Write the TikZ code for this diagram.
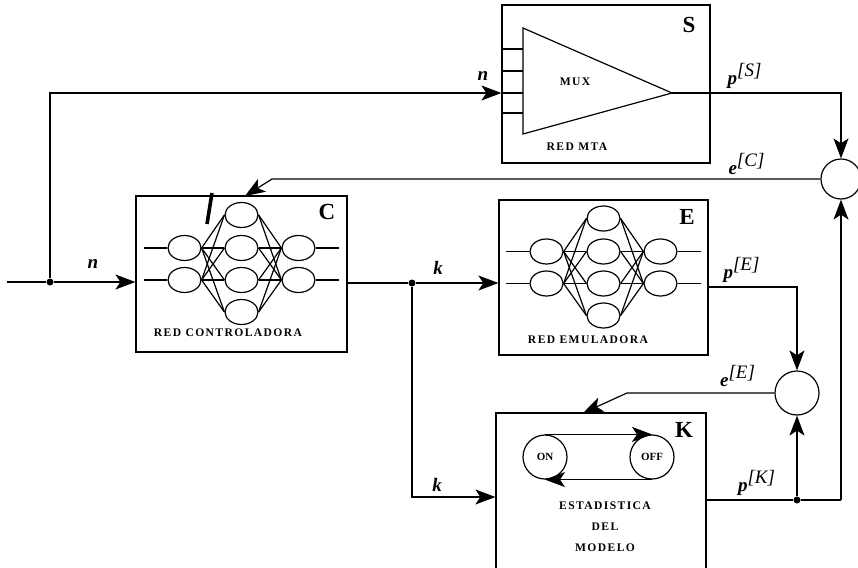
\documentclass[tikz,border=0pt]{standalone}
\usepackage{fontspec}
\setmainfont{Liberation Serif}
\usetikzlibrary{arrows.meta, shapes.geometric}

\newcommand{\rednet}[3]{%
  \foreach \r/\dy in {1/-59,2/-26,3/6,4/38}
    \node[neuron] (#1h\r) at (#2, #3+\dy) {};
  \foreach \r/\dy in {1/-26,2/6} {
    \node[neuron] (#1i\r) at (#2-57, #3+\dy) {};
    \node[neuron] (#1o\r) at (#2+57, #3+\dy) {};
    \draw (#1i\r.west) -- ++(-23,0);
    \draw (#1o\r.east) -- ++(23,0);
  }
  \foreach \i in {1,2} \foreach \h in {1,...,4} {
    \draw (#1i\i.east) -- (#1h\h.west);
    \draw (#1h\h.east) -- (#1o\i.west);
  }
}

\begin{document}
\begin{tikzpicture}[x=0.5pt, y=-0.5pt, line width=0.6pt,
    bloque/.style={draw, rectangle, inner sep=0pt},
    neuron/.style={draw, ellipse, inner sep=0pt, minimum width=16.5pt, minimum height=12.5pt},
    sumador/.style={draw, circle, inner sep=0pt},
    estado/.style={draw, circle, inner sep=0pt, minimum size=22pt, font=\fontsize{5.5}{6}\selectfont\bfseries},
    punto/.style={circle, fill, inner sep=0pt, minimum size=3.5pt},
    letra/.style={font=\fontsize{11.5}{12}\selectfont\bfseries},
    rotulo/.style={font=\fontsize{5.8}{6}\selectfont\bfseries\addfontfeature{LetterSpace=12}},
    senal/.style={font=\fontsize{9.5}{10}\selectfont\bfseries\itshape},
    sup/.style={},
    flow/.style={-{Stealth[length=10pt, width=7.5pt, inset=2.5pt]}}
]
\useasboundingbox (0,0) rectangle (858,568);

\node[bloque, minimum width=104pt, minimum height=79pt] (S) at (606,84) {};
\node[bloque, minimum width=105.5pt, minimum height=78pt] (C) at (241.5,274) {};
\node[bloque, minimum width=104.5pt, minimum height=77.5pt] (E) at (603.5,277.5) {};
\node[bloque, minimum width=105pt, minimum height=81pt] (K) at (601,494) {};

\node[letra] (Slet) at (689,25) {S};
\node[letra] (Clet) at (327,212) {C};
\node[letra] (Elet) at (687,217) {E};
\node[letra] (Klet) at (684,430) {K};

\coordinate (mux) at (672,93);
\draw (523,28) -- (mux) -- (523,134) -- cycle;
\foreach \yy in {49,71,93,113}
  \draw (S.west |- 0,\yy) -- (523,\yy);
\node[rotulo] (muxtxt) at (575,82) {MUX};
\node[rotulo] (mta) at (577,147) {RED MTA};

\rednet{c}{241.5}{274}
\rednet{e}{603.5}{277.5}
\draw[line width=1.8pt] (212,193) -- (207,224);
\node[rotulo] (ctxt) at (228,333) {RED CONTROLADORA};
\node[rotulo] (etxt) at (588,340) {RED EMULADORA};

\node[estado] (on) at (545,457) {ON};
\node[estado] (off) at (652,457) {OFF};
\draw[flow] (on.north) -- (off.north);
\draw[flow] (off.south) -- (on.south);
\node[rotulo, align=center, font=\fontsize{5.8}{10.5}\selectfont\bfseries\addfontfeature{LetterSpace=12}] (estad) at (605,527) {ESTADISTICA\\DEL\\MODELO};

\node[sumador, minimum size=20pt] (J1) at (841,179) {};
\node[sumador, minimum size=22pt] (J2) at (797,393) {};

\coordinate (entrada) at (7,282);
\node[punto] (nsplit) at (50,282) {};
\draw (entrada) -- (nsplit);
\draw[flow] (nsplit) -- (nsplit -| C.west);
\draw[flow] (nsplit) |- (S.west |- 0,93);
\draw[flow] (mux) -| (J1.north);

\coordinate (ecodo) at (272,179);
\coordinate (ectip) at (245,196);
\draw[flow] (J1.west) -- (ecodo) -- (ectip);

\node[punto] (ksplit) at (412,283) {};
\draw (C.east |- ksplit) -- (ksplit);
\draw[flow] (ksplit) -- (ksplit -| E.west);
\draw[flow] (ksplit) |- (K.west |- 0,497);

\draw[flow] (E.east |- 0,287) -| (J2.north);

\coordinate (eecodo) at (627,393);
\coordinate (eetip) at (583,413);
\draw[flow] (J2.west) -- (eecodo) -- (eetip);

\node[punto] (kdot) at (797,500) {};
\coordinate (kesq) at (841,500);
\draw (K.east |- kdot) -- (kdot) -- (kesq);
\draw[flow] (kesq) -- (J1.south);
\draw[flow] (kdot) -- (J2.south);

\node[senal] (nS) at (483,76) {n};
\node[senal] (nC) at (93,264) {n};
\node[senal] (pS) at (745,76) {p$^{\textit{\mdseries[S]}}$};
\node[senal] (eC) at (747,164) {e$^{\textit{\mdseries[C]}}$};
\node[senal] (kE) at (438,268) {k};
\node[senal] (kK) at (437,485) {k};
\node[senal] (pE) at (742,270) {p$^{\textit{\mdseries[E]}}$};
\node[senal] (eE) at (738,376) {e$^{\textit{\mdseries[E]}}$};
\node[senal] (pK) at (757,483) {p$^{\textit{\mdseries[K]}}$};
\end{tikzpicture}
\end{document}
